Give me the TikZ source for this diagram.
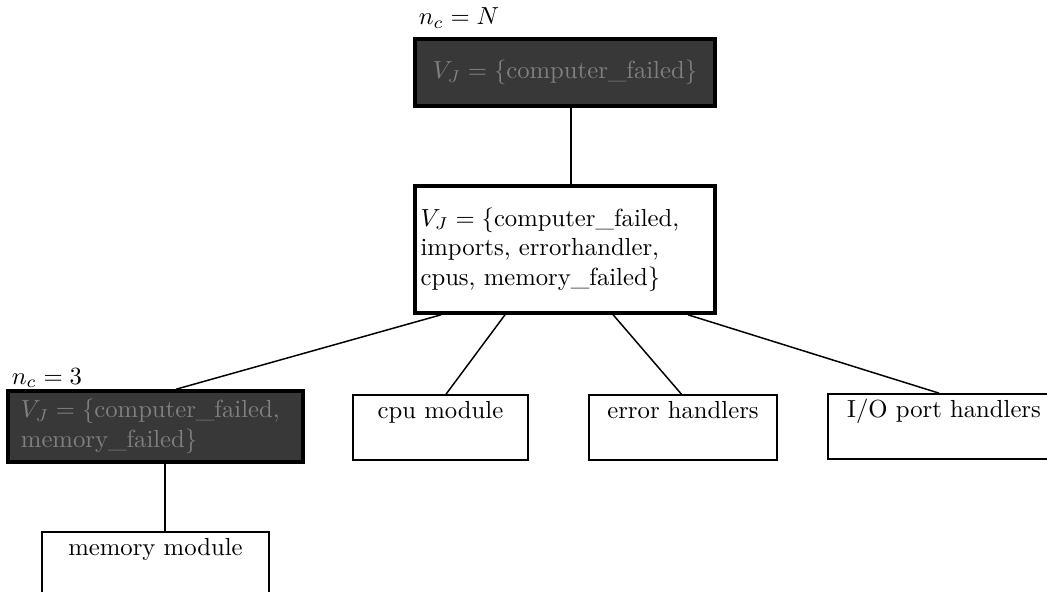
\documentclass[tikz,border=0pt]{standalone}
\usetikzlibrary{positioning}
\definecolor{darkfill}{gray}{0.22}
\definecolor{dimtext}{gray}{0.50}
\tikzset{
  thinbox/.style={draw, line width=0.6pt, align=center, inner xsep=2pt, inner ysep=1.2pt},
  heavybox/.style={draw, line width=1.5pt, inner xsep=2.25pt},
  darkbox/.style={heavybox, fill=darkfill, text=dimtext},
  tag/.style={inner sep=0pt},
  link/.style={line width=0.6pt},
}
\begin{document}
\begin{tikzpicture}[x=0.405pt, y=-0.405pt]
  \useasboundingbox (0,0) rectangle (1047,592);
  \clip (0,0) rectangle (1047,592);

  % root of the join tree
  \node[tag] (ntop) at (459,18) {$n_c = N$};
  \node[darkbox, minimum width=121.5pt, minimum height=27.1pt, align=center]
    (root) at (565,72.5) {$V_J = \{$computer\_failed$\}$};

  % separator box
  \node[heavybox, text width=117pt, minimum height=51.4pt, align=left]
    (sep) at (565,249.5)
    {$V_J = \{$computer\_failed,\\ imports, errorhandler,\\ cpus, memory\_failed$\}$};

  % second level
  \node[tag] (nlow) at (47,378) {$n_c = 3$};
  \node[darkbox, text width=109pt, minimum height=27.1pt, inner xsep=5.25pt, align=left]
    (mem) at (155.5,426.5) {$V_J = \{$computer\_failed,\\ memory\_failed$\}$};
  \node[thinbox, minimum width=70.9pt] (cpu) at (440.5,427.5) {\strut cpu module\\ \strut};
  \node[thinbox, minimum width=76.1pt] (err) at (683,427.5) {\strut error handlers\\ \strut};
  \node[thinbox, minimum width=94pt] (io) at (944,426.5) {\strut I/O port handlers\\ \strut};

  % third level
  \node[thinbox, minimum width=92pt] (memmod) at (155.5,564.5) {\strut memory module\\ \strut};

  % connectors
  \draw[link] ([xshift=2.4pt]root.south) -- ([xshift=2.4pt]sep.north);
  \draw[link] ([xshift=11.3pt]sep.south west) -- ([xshift=68.8pt]mem.north west);
  \draw[link] ([xshift=37.2pt]sep.south west) -- ([xshift=38pt]cpu.north west);
  \draw[link] ([xshift=81pt]sep.south west) -- ([xshift=37.7pt]err.north west);
  \draw[link] ([xshift=111.3pt]sep.south west) -- ([xshift=45.3pt]io.north west);
  \draw[link] ([xshift=64.4pt]mem.south west) -- ([xshift=50.2pt]memmod.north west);
\end{tikzpicture}
\end{document}
